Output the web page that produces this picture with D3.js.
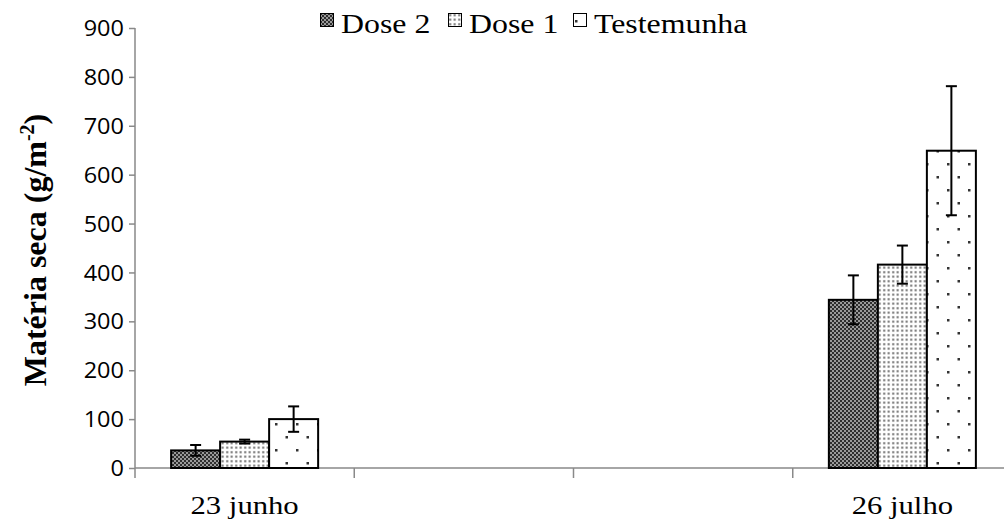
<!DOCTYPE html>
<html><head><meta charset="utf-8">
<script src="https://cdn.jsdelivr.net/npm/d3@7"></script>
<style>html,body{margin:0;padding:0;background:#fff;}svg{display:block;}</style>
</head><body>
<svg id="c" width="1004" height="520"></svg>
<script>
const categories = ["23 junho", "", " ", "26 julho"];
const series = ["Dose 2", "Dose 1", "Testemunha"];
const values = {
  "Dose 2":     [36, null, null, 344],
  "Dose 1":     [54, null, null, 416],
  "Testemunha": [100, null, null, 649]
};
const errors = {
  "Dose 2":     [11, null, null, 50],
  "Dose 1":     [4, null, null, 39],
  "Testemunha": [26, null, null, 132]
};
const yTicks = [0,100,200,300,400,500,600,700,800,900];

const svg = d3.select("#c");
const defs = svg.append("defs");
// Dose 2: dark checker
let p = defs.append("pattern").attr("id","pD2").attr("patternUnits","userSpaceOnUse").attr("width",4).attr("height",4);
p.append("rect").attr("width",4).attr("height",4).attr("fill","#9a9a9a");
p.append("rect").attr("x",0).attr("y",0).attr("width",2).attr("height",2).attr("fill","#2e2e2e");
p.append("rect").attr("x",2).attr("y",2).attr("width",2).attr("height",2).attr("fill","#2e2e2e");
// Dose 1: dense dots
p = defs.append("pattern").attr("id","pD1").attr("patternUnits","userSpaceOnUse").attr("width",4.5).attr("height",4.5);
p.append("rect").attr("width",4.5).attr("height",4.5).attr("fill","#fff");
p.append("rect").attr("x",1.2).attr("y",1.2).attr("width",2).attr("height",2).attr("fill","#666");
// Testemunha: sparse staggered dots
p = defs.append("pattern").attr("id","pT").attr("patternUnits","userSpaceOnUse").attr("width",21).attr("height",26);
p.append("rect").attr("width",21).attr("height",26).attr("fill","#fff");
p.append("rect").attr("x",2).attr("y",7).attr("width",2.5).attr("height",2.5).attr("fill","#333");
p.append("rect").attr("x",12.5).attr("y",20).attr("width",2.5).attr("height",2.5).attr("fill","#333");
const fills = {"Dose 2":"url(#pD2)","Dose 1":"url(#pD1)","Testemunha":"url(#pT)"};

const x0 = 135, xEnd = 1012, yTop = 28, yBot = 468;
const y = d3.scaleLinear().domain([0,900]).range([yBot, yTop]);
const x = d3.scaleBand().domain(categories).range([x0, xEnd]).paddingInner(0).paddingOuter(0);
const xs = d3.scaleBand().domain(series).range([0, x.bandwidth()]).paddingInner(0).paddingOuter(0.737);

const axisColor = "#898989";
// y axis
const ya = svg.append("g").attr("transform",`translate(${x0},0)`)
  .call(d3.axisLeft(y).tickValues(yTicks).tickSize(6).tickPadding(6));
ya.select(".domain").remove();
ya.selectAll(".tick line").attr("stroke",axisColor).attr("stroke-width",1.5);
ya.selectAll(".tick text").attr("font-family","'Open Sans', Lato, sans-serif").attr("font-size",21).attr("fill","#000")
  .attr("x",0).attr("dy","0.36em").attr("transform","translate(-11,0) scale(1.12,1)");
svg.append("line").attr("x1",x0).attr("x2",x0).attr("y1",y(900)).attr("y2",yBot+10).attr("stroke",axisColor).attr("stroke-width",1.5);

// x axis
const xa = svg.append("g").attr("transform",`translate(0,${yBot})`)
  .call(d3.axisBottom(x).tickSize(0).tickPadding(28));
xa.select(".domain").remove();
xa.selectAll(".tick text").attr("font-family","'Liberation Serif', 'Times New Roman', serif").attr("font-size",26).attr("fill","#000")
  .attr("transform","scale(1.18,1)");
svg.append("line").attr("x1",x0).attr("x2",xEnd).attr("y1",yBot).attr("y2",yBot).attr("stroke",axisColor).attr("stroke-width",1.5);
categories.forEach((c,i)=>{
  if(i===0) return;
  svg.append("line").attr("x1",x(c)).attr("x2",x(c)).attr("y1",yBot).attr("y2",yBot+10).attr("stroke",axisColor).attr("stroke-width",1.5);
});

// bars
series.forEach(s=>{
  categories.forEach((c,i)=>{
    const v = values[s][i];
    if(v==null) return;
    const bx = x(c)+xs(s);
    svg.append("rect").attr("x",bx).attr("y",y(v)).attr("width",xs.bandwidth()).attr("height",y(0)-y(v))
      .attr("fill",fills[s]).attr("stroke","#000").attr("stroke-width",2);
  });
});
// error bars
series.forEach(s=>{
  categories.forEach((c,i)=>{
    const v = values[s][i], e = errors[s][i];
    if(v==null) return;
    const cx = x(c)+xs(s)+xs.bandwidth()/2;
    const g = svg.append("g").attr("stroke","#000").attr("stroke-width",2);
    g.append("line").attr("x1",cx).attr("x2",cx).attr("y1",y(v+e)).attr("y2",y(v-e));
    g.append("line").attr("x1",cx-5.5).attr("x2",cx+5.5).attr("y1",y(v+e)).attr("y2",y(v+e));
    g.append("line").attr("x1",cx-5.5).attr("x2",cx+5.5).attr("y1",y(v-e)).attr("y2",y(v-e));
  });
});

// y title
svg.append("text").attr("transform","translate(46,250) rotate(-90)").attr("text-anchor","middle")
  .attr("font-family","'Liberation Serif', 'Times New Roman', serif").attr("font-weight","bold").attr("font-size",32)
  .call(t=>{
    t.append("tspan").text("Matéria seca (g/m");
    t.append("tspan").attr("font-size",20).attr("dy",-12).text("-2");
    t.append("tspan").attr("dy",12).text(")");
  });

// legend
const legX = [320, 448, 573];
series.forEach((s,i)=>{
  const g = svg.append("g").attr("transform",`translate(${legX[i]},13)`);
  g.append("rect").attr("x",0.5).attr("y",0.5).attr("width",13).attr("height",13).attr("fill",fills[s]).attr("stroke","#000").attr("stroke-width",1);
  g.append("text").attr("transform","translate(21,20) scale(1.18,1)")
    .attr("font-family","'Liberation Serif', 'Times New Roman', serif").attr("font-size",27).text(s);
});
</script>
</body></html>
